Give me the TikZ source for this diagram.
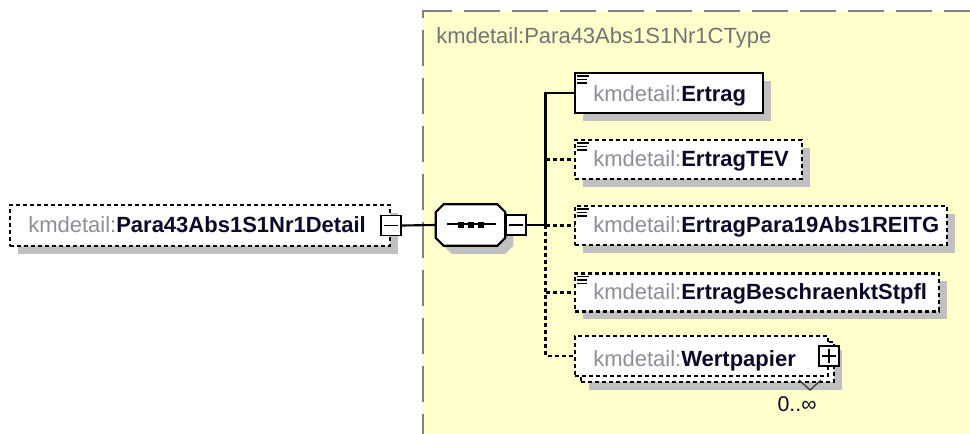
\documentclass[tikz,border=0pt]{standalone}
\usepackage{fontspec}
\setmainfont{Liberation Sans}
\usetikzlibrary{shadows}
\definecolor{bgyellow}{RGB}{255,255,204}
\definecolor{framegray}{RGB}{128,128,128}
\definecolor{titlegray}{RGB}{115,115,115}
\definecolor{shadowgray}{RGB}{192,192,192}
\definecolor{nsgray}{RGB}{145,140,150}
\definecolor{namecol}{RGB}{10,10,40}
\newcommand{\elname}[1]{{\color{nsgray}kmdetail:}\textbf{#1}}
\begin{document}
\begin{tikzpicture}[x=0.75pt,y=-0.75pt,
  elbox/.style={draw=black, fill=white, line width=1.6pt, inner sep=0pt},
  shad/.style={general shadow={fill=shadowgray, shadow xshift=6pt, shadow yshift=-6pt}},
  opt/.style={dash pattern=on 3pt off 2.25pt},
  conn/.style={draw=black, line width=1.6pt},
  pmbox/.style={draw=black, fill=white, line width=1.3pt, inner sep=0pt, minimum size=#1},
  lbl/.style={anchor=base west, inner sep=0pt, text=namecol, font=\fontsize{16.5}{19}\selectfont},
  icon/.style={line width=1.2pt}
]
\useasboundingbox (0,0) rectangle (970,434);
\clip (0,0) rectangle (970,434);
\fill[white] (0,0) rectangle (970,434);
% complex type area
\fill[bgyellow] (423,11) rectangle (990,450);
\draw[framegray, line width=1.5pt, dash pattern=on 27pt off 9pt] (423,450) -- (423,11) -- (990,11);
\node[lbl, text=titlegray] (title) at (436,44) {kmdetail:Para43Abs1S1Nr1CType};

% root element
\node[elbox, opt, shad, minimum width=285pt, minimum height=30.75pt] (root) at (200,225.5) {};
\node[lbl] (roottxt) at (28,233) {\elname{Para43Abs1S1Nr1Detail}};
\node[pmbox=15pt] (rm) at (root.east) {};
\draw[line width=1.3pt] ([xshift=3pt]rm.west) -- ([xshift=-3pt]rm.east);

% sequence compositor
\node[inner sep=0pt, minimum width=51.75pt, minimum height=30.75pt] (seq) at (470.5,225) {};
\fill[shadowgray] ([shift={(16,8)}]seq.north west) -- ([shift={(0,8)}]seq.north east)
  -- ([shift={(8,16)}]seq.north east) -- ([shift={(8,0)}]seq.south east)
  -- ([shift={(0,8)}]seq.south east) -- ([shift={(16,8)}]seq.south west)
  -- ([shift={(8,0)}]seq.south west) -- ([shift={(8,16)}]seq.north west) -- cycle;
\draw[fill=white, line width=1.6pt] ([shift={(8,0)}]seq.north west) -- ([shift={(-8,0)}]seq.north east)
  -- ([shift={(0,8)}]seq.north east) -- ([shift={(0,-8)}]seq.south east)
  -- ([shift={(-8,0)}]seq.south east) -- ([shift={(8,0)}]seq.south west)
  -- ([shift={(0,-8)}]seq.south west) -- ([shift={(0,8)}]seq.north west) -- cycle;
\draw[line width=1.5pt] ([xshift=-23.5*0.75pt, yshift=0.5*0.75pt]seq.center) -- ([xshift=25.5*0.75pt, yshift=0.5*0.75pt]seq.center);
\foreach \dx in {-10,0,10}
  \fill[black] ([shift={(\dx-3,-2.5)}]seq.center) rectangle ([shift={(\dx+3,3.5)}]seq.center);
\node[pmbox=15pt] (sm) at (516,225) {};
\draw[line width=1.3pt] ([xshift=3pt]sm.west) -- ([xshift=-3pt]sm.east);

% children
\node[elbox, shad, minimum width=141pt, minimum height=30pt] (b1) at (669,93) {};
\node[lbl] (t1) at (593,101.5) {\elname{Ertrag}};

\node[elbox, opt, shad, minimum width=170.25pt, minimum height=29.25pt] (b2) at (688.5,159.5) {};
\node[lbl] (t2) at (593,167) {\elname{ErtragTEV}};

\node[elbox, opt, shad, minimum width=279pt, minimum height=29.25pt] (b3) at (761,225.5) {};
\node[lbl] (t3) at (593,233) {\elname{ErtragPara19Abs1REITG}};

\node[elbox, opt, shad, minimum width=273pt, minimum height=28.5pt] (b4) at (757,292.5) {};
\node[lbl] (t4) at (593,300) {\elname{ErtragBeschraenktStpfl}};

\node[elbox, opt, shad, minimum width=189.75pt, minimum height=30pt] (b5back) at (707.5,362) {};
\node[elbox, opt, minimum width=189.75pt, minimum height=30pt] (b5) at (701.5,356) {};
\node[lbl] (t5) at (593,366) {\elname{Wertpapier}};
\node[pmbox=15pt] (pl) at (b5.east) {};
\draw[line width=1.3pt] ([xshift=3pt]pl.west) -- ([xshift=-3pt]pl.east);
\draw[line width=1.3pt] ([yshift=-3pt]pl.north) -- ([yshift=3pt]pl.south);
\draw[line width=1pt, black!75] (799,380) -- (810,390) -- (821,380);
\node[anchor=center, inner sep=0pt, text=namecol, font=\fontsize{16}{19}\selectfont] (card) at (797,404) {0..∞};

% simple-type icons
\foreach \b in {b1,b2,b3,b4}{
  \draw[icon] ([shift={(3,4)}]\b.north west) -- ++(12,0);
  \draw[icon] ([shift={(3,7.5)}]\b.north west) -- ++(10,0);
  \draw[icon] ([shift={(3,11)}]\b.north west) -- ++(10,0);
}

% connectors
\coordinate (sp) at (545.5,225);
\draw[conn] (rm.east) -- (seq.west);
\draw[conn] (sm.east) -- (sp);
\draw[conn, opt] (sp) |- (b5.west);
\draw[conn, opt] (b2.west -| sp) -- (b2.west);
\draw[conn, opt] (b3.west -| sp) -- (b3.west);
\draw[conn, opt] (b4.west -| sp) -- (b4.west);
\draw[conn] (sp) |- (b1.west);
\end{tikzpicture}
\end{document}
